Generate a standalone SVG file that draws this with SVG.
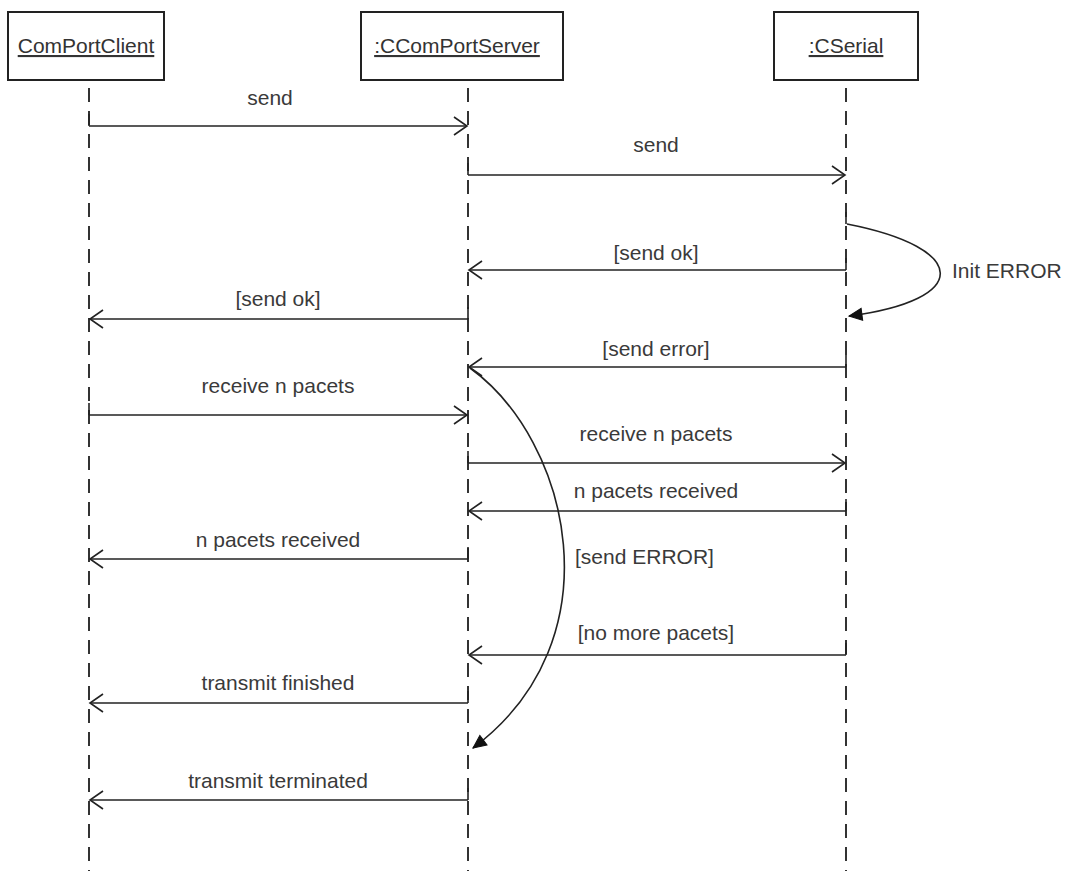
<svg xmlns="http://www.w3.org/2000/svg" width="1066" height="871" viewBox="0 0 1066 871">
  <defs>
    <style>
      .obj { fill: #ffffff; stroke: #222222; stroke-width: 2; }
      .title { font-family: "Liberation Sans", Arial, sans-serif; font-size: 21px; fill: #333333; text-anchor: middle; text-decoration: underline; }
      .life { stroke: #333333; stroke-width: 2; stroke-dasharray: 14 9; fill: none; }
      .msg { stroke: #222222; stroke-width: 1.6; fill: none; marker-end: url(#open); }
      .tick { stroke: #222222; stroke-width: 1.6; fill: none; }
      .curve { stroke: #222222; stroke-width: 1.6; fill: none; marker-end: url(#solid); }
      .lbl { font-family: "Liberation Sans", Arial, sans-serif; font-size: 21px; fill: #3a3a3a; text-anchor: middle; }
      .lbl-l { font-family: "Liberation Sans", Arial, sans-serif; font-size: 21px; fill: #3a3a3a; text-anchor: start; }
    </style>
    <marker id="open" viewBox="-14 -10 16 20" refX="0" refY="0" markerWidth="16" markerHeight="20" markerUnits="userSpaceOnUse" orient="auto">
      <path d="M-13,-9 L0,0 L-13,9" fill="none" stroke="#222222" stroke-width="1.6"/>
    </marker>
    <marker id="solid" viewBox="-14 -8 16 16" refX="0" refY="0" markerWidth="16" markerHeight="16" markerUnits="userSpaceOnUse" orient="auto">
      <path d="M-13,-6 L0,0 L-13,6 Z" fill="#111111" stroke="#111111" stroke-width="1"/>
    </marker>
  </defs>

  <rect width="1066" height="871" fill="#ffffff"/>

  <!-- participants -->
  <g id="node-client">
    <rect class="obj" x="8" y="12" width="156" height="68"/>
    <text class="title" x="86" y="53">ComPortClient</text>
    <line class="life" x1="89" y1="88" x2="89" y2="871"/>
  </g>
  <g id="node-server">
    <rect class="obj" x="361" y="12" width="202" height="68"/>
    <text class="title" x="457" y="53">:CComPortServer</text>
    <line class="life" x1="468" y1="88" x2="468" y2="871"/>
  </g>
  <g id="node-serial">
    <rect class="obj" x="774" y="12" width="144" height="68"/>
    <text class="title" x="846" y="53">:CSerial</text>
    <line class="life" x1="846" y1="88" x2="846" y2="871"/>
  </g>

  <!-- messages -->
  <g id="connectors">
    <path class="tick" d="M89,114 V126"/>
    <path class="msg" d="M89,126 H467"/>
    <path class="tick" d="M468,163 V175"/>
    <path class="msg" d="M468,175 H845"/>
    <path class="tick" d="M846,258 V270"/>
    <path class="msg" d="M846,270 H469"/>
    <path class="tick" d="M468,307 V319"/>
    <path class="msg" d="M468,319 H90"/>
    <path class="tick" d="M846,355 V367"/>
    <path class="msg" d="M846,367 H469"/>
    <path class="tick" d="M89,403 V415"/>
    <path class="msg" d="M89,415 H467"/>
    <path class="tick" d="M468,451 V463"/>
    <path class="msg" d="M468,463 H845"/>
    <path class="tick" d="M846,499 V511"/>
    <path class="msg" d="M846,511 H469"/>
    <path class="tick" d="M468,547 V559"/>
    <path class="msg" d="M468,559 H90"/>
    <path class="tick" d="M846,643 V655"/>
    <path class="msg" d="M846,655 H469"/>
    <path class="tick" d="M468,691 V703"/>
    <path class="msg" d="M468,703 H90"/>
    <path class="tick" d="M468,788 V800"/>
    <path class="msg" d="M468,800 H90"/>

    <!-- error branches -->
    <path class="tick" d="M846,212 V224"/>
    <path class="curve" d="M847,224 C970,248 972,300 849,316"/>
    <path class="curve" d="M470,368 C570,440 618,640 473,748"/>
  </g>

  <!-- labels -->
  <g id="labels">
    <text class="lbl" x="270" y="105">send</text>
    <text class="lbl" x="656" y="152">send</text>
    <text class="lbl" x="656" y="260">[send ok]</text>
    <text class="lbl" x="278" y="306">[send ok]</text>
    <text class="lbl" x="656" y="356">[send error]</text>
    <text class="lbl" x="278" y="393">receive n pacets</text>
    <text class="lbl" x="656" y="441">receive n pacets</text>
    <text class="lbl" x="656" y="498">n pacets received</text>
    <text class="lbl" x="278" y="547">n pacets received</text>
    <text class="lbl-l" x="575" y="564">[send ERROR]</text>
    <text class="lbl" x="656" y="640">[no more pacets]</text>
    <text class="lbl" x="278" y="690">transmit finished</text>
    <text class="lbl" x="278" y="788">transmit terminated</text>
    <text class="lbl-l" x="952" y="278">Init ERROR</text>
  </g>
</svg>
